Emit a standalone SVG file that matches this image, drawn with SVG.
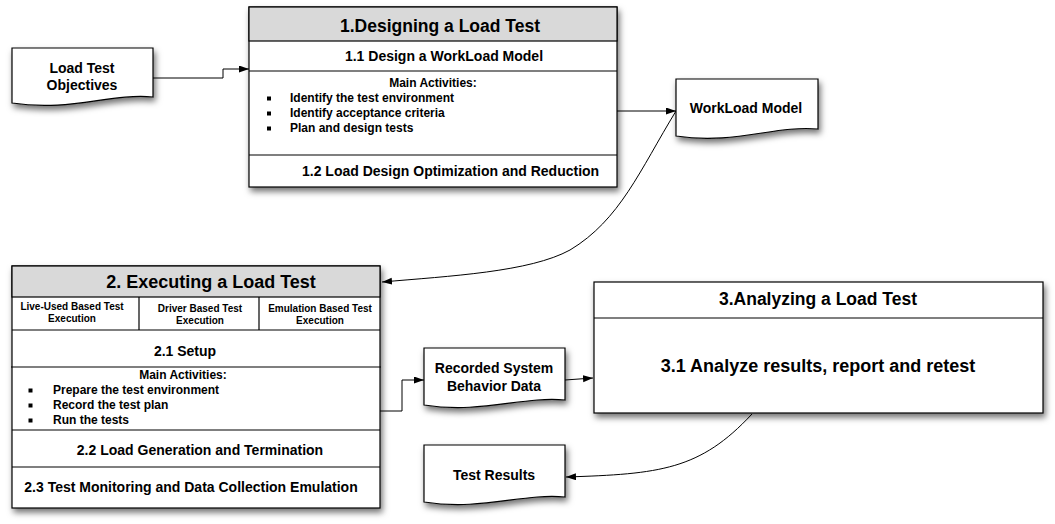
<svg xmlns="http://www.w3.org/2000/svg" width="1055" height="524" viewBox="0 0 1055 524">
<style>
  text { font-family: "Liberation Sans", Arial, sans-serif; font-weight: bold; fill: #000; }
  .shape { fill: #fff; stroke: #000; stroke-width: 1.2; filter: url(#sh); }
  .hdr { fill: #d9d9d9; stroke: #000; stroke-width: 1.2; }
  .ln { stroke: #000; stroke-width: 1.2; fill: none; }
  .conn { stroke: #000; stroke-width: 1; fill: none; marker-end: url(#arr); }
  .t18 { font-size: 17.5px; }
  .t14 { font-size: 14px; }
  .t12 { font-size: 12px; }
  .t10 { font-size: 10px; }
  .mid { text-anchor: middle; }
  .bul { fill: #000; }
</style>
<defs>
  <filter id="sh" x="-10%" y="-10%" width="125%" height="130%">
    <feDropShadow dx="2" dy="4" stdDeviation="3" flood-color="#000" flood-opacity="0.55"/>
  </filter>
  <marker id="arr" markerUnits="userSpaceOnUse" markerWidth="11" markerHeight="8" refX="10" refY="3.5" orient="auto">
    <path d="M0,0 L10,3.5 L0,7 z" fill="#000"/>
  </marker>
</defs>
<rect width="1055" height="524" fill="#fff"/>

<g id="connectors">
  <path class="conn" d="M153,78 H223 V69 H249"/>
  <path class="conn" d="M617,111 H676"/>
  <path class="conn" d="M676,111 C640,170 620,220 570,250 C530,272 450,276 382,282"/>
  <path class="conn" d="M380,411 H402 V380 H424"/>
  <path class="conn" d="M565,380 L593,378"/>
  <path class="conn" d="M752,414 C700,470 660,474 566,477"/>
</g>

<g id="load-test-objectives">
  <path class="shape" d="M12,48 H153 V97 C110,93 70,112 12,103 Z"/>
  <text class="t14 mid" x="82" y="73">Load Test</text>
  <text class="t14 mid" x="82" y="90">Objectives</text>
</g>

<g id="designing">
  <rect class="shape" x="249" y="7" width="368" height="180"/>
  <rect class="hdr" x="249" y="7" width="368" height="34"/>
  <line class="ln" x1="249" y1="71" x2="617" y2="71"/>
  <line class="ln" x1="249" y1="155" x2="617" y2="155"/>
  <text class="t18 mid" x="440" y="32">1.Designing a Load Test</text>
  <text class="t14 mid" x="444" y="61">1.1 Design a WorkLoad Model</text>
  <text class="t12 mid" x="433" y="87">Main Activities:</text>
  <rect class="bul" x="267" y="96.5" width="4" height="4"/>
  <rect class="bul" x="267" y="111.5" width="4" height="4"/>
  <rect class="bul" x="267" y="126.5" width="4" height="4"/>
  <text class="t12" x="290" y="102">Identify the test environment</text>
  <text class="t12" x="290" y="117">Identify acceptance criteria</text>
  <text class="t12" x="290" y="132">Plan and design tests</text>
  <text class="t14" x="302" y="176">1.2 Load Design Optimization and Reduction</text>
</g>

<g id="workload-model">
  <path class="shape" d="M676,79 H818 V129 C775,125 735,145 676,136 Z"/>
  <text class="t14 mid" x="746" y="113">WorkLoad Model</text>
</g>

<g id="executing">
  <rect class="shape" x="12" y="266" width="368" height="242"/>
  <rect class="hdr" x="12" y="266" width="368" height="31"/>
  <line class="ln" x1="12" y1="330" x2="380" y2="330"/>
  <line class="ln" x1="139" y1="297" x2="139" y2="330"/>
  <line class="ln" x1="259" y1="297" x2="259" y2="330"/>
  <line class="ln" x1="11" y1="367" x2="381" y2="367"/>
  <line class="ln" x1="12" y1="430" x2="380" y2="430"/>
  <line class="ln" x1="12" y1="467" x2="380" y2="467"/>
  <text class="mid" style="font-size:18px" x="211" y="288">2. Executing a Load Test</text>
  <text class="t10 mid" x="72" y="310">Live-Used Based Test</text>
  <text class="t10 mid" x="72" y="322">Execution</text>
  <text class="t10 mid" x="200" y="312">Driver Based Test</text>
  <text class="t10 mid" x="200" y="324">Execution</text>
  <text class="t10 mid" x="320" y="312">Emulation Based Test</text>
  <text class="t10 mid" x="320" y="324">Execution</text>
  <text class="t14 mid" x="185" y="356">2.1 Setup</text>
  <text class="t12 mid" x="183" y="379">Main Activities:</text>
  <rect class="bul" x="28.5" y="388.5" width="4" height="4"/>
  <rect class="bul" x="28.5" y="403.5" width="4" height="4"/>
  <rect class="bul" x="28.5" y="418.5" width="4" height="4"/>
  <text class="t12" x="53" y="394">Prepare the test environment</text>
  <text class="t12" x="53" y="409">Record the test plan</text>
  <text class="t12" x="53" y="424">Run the tests</text>
  <text class="t14 mid" x="200" y="455">2.2 Load Generation and Termination</text>
  <text class="t14 mid" x="191" y="492">2.3 Test Monitoring and Data Collection Emulation</text>
</g>

<g id="recorded-data">
  <path class="shape" d="M424,348 H565 V400 C522,396 482,414 424,405 Z"/>
  <text class="t14 mid" x="494" y="373">Recorded System</text>
  <text class="t14 mid" x="494" y="391">Behavior Data</text>
</g>

<g id="analyzing">
  <rect class="shape" x="594" y="282" width="449" height="131"/>
  <line class="ln" x1="594" y1="318" x2="1043" y2="318"/>
  <text class="t18 mid" x="818" y="305">3.Analyzing a Load Test</text>
  <text class="mid" style="font-size:18px" x="818" y="372">3.1 Analyze results, report and retest</text>
</g>

<g id="test-results">
  <path class="shape" d="M424,445 H565 V497 C522,493 482,511 424,502 Z"/>
  <text class="t14 mid" x="494" y="480">Test Results</text>
</g>
</svg>
